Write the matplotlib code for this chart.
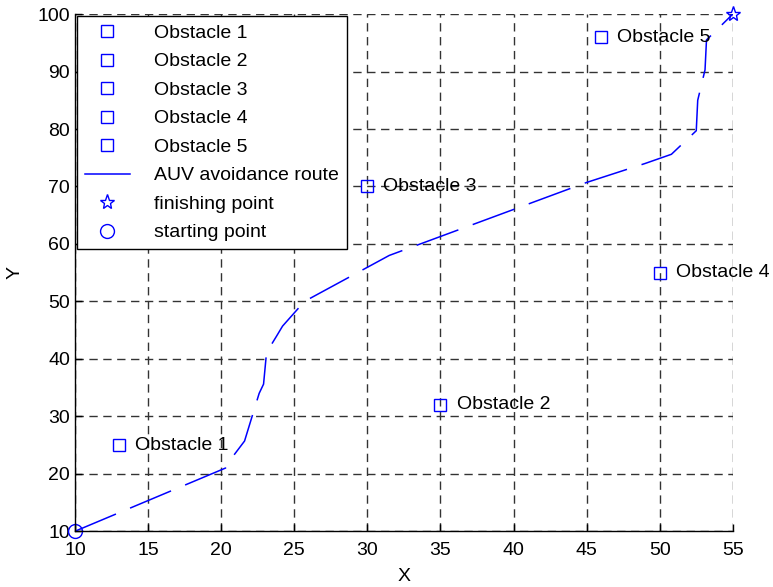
import numpy as np
import matplotlib.pyplot as plt

plt.rcParams['font.family'] = ['Liberation Sans', 'DejaVu Sans']
plt.rcParams['lines.scale_dashes'] = False

# Obstacle positions
obs_x = [13, 35, 30, 50, 46]
obs_y = [25, 32, 70, 55, 96]
obs_names = ["Obstacle 1", "Obstacle 2", "Obstacle 3", "Obstacle 4", "Obstacle 5"]

# AUV avoidance route
route_x = [10, 20.3, 20.5, 21.6, 22.6, 22.9, 23.1, 23.2, 23.8, 24.2, 25.7,
           31.5, 45.0, 49.0, 50.8, 52.5, 52.6, 53.1, 53.2, 55]
route_y = [10, 21.0, 22.0, 25.7, 34.0, 35.6, 41.0, 41.5, 44.0, 45.7, 50.0,
           58.0, 70.7, 74.0, 75.6, 79.7, 85.0, 90.3, 95.5, 100]

start_pt = (10, 10)
finish_pt = (55, 100)

fig = plt.figure(figsize=(7.73, 5.87), dpi=100)
ax = fig.add_axes([0.097, 0.095, 0.851, 0.881])

for x, y, name in zip(obs_x, obs_y, obs_names):
    ax.plot(x, y, 's', color='blue', mfc='none', ms=9, mew=1, label=name)
    ax.text(x + 1.1, y, name, fontsize=14, va='center', ha='left')

route, = ax.plot(route_x, route_y, color='blue', lw=1.1, label='AUV avoidance route')
route.set_dashes((32, 11))
ax.plot(*finish_pt, '*', color='blue', mfc='none', ms=11, mew=1,
        label='finishing point', clip_on=False)
ax.plot(*start_pt, 'o', color='blue', mfc='none', ms=10, mew=1,
        label='starting point', clip_on=False)

ax.set_xlim(10, 55)
ax.set_ylim(10, 100)
ax.set_xticks(np.arange(10, 56, 5))
ax.set_yticks(np.arange(10, 101, 10))
ax.tick_params(direction='in', labelsize=14, length=5, width=1)
ax.tick_params(axis='x', pad=8)
ax.grid(True, color='0.2', linestyle=(0, (6, 4)), linewidth=1)
ax.set_axisbelow(True)
for side in ['top', 'right']:
    ax.spines[side].set_visible(False)
for side in ['left', 'bottom']:
    ax.spines[side].set_linewidth(1)

ax.set_xlabel('X', fontsize=14, labelpad=6)
ax.set_ylabel('Y', fontsize=14, labelpad=10)

leg = ax.legend(loc='upper left', fontsize=14, fancybox=False, framealpha=1,
                edgecolor='black', borderaxespad=0.1, handlelength=2.3,
                handletextpad=1.25, labelspacing=0.56, borderpad=0.42)
leg.get_frame().set_linewidth(1)
leg.get_lines()[5].set_linestyle('-')

fig.savefig('out.png', dpi=100)
